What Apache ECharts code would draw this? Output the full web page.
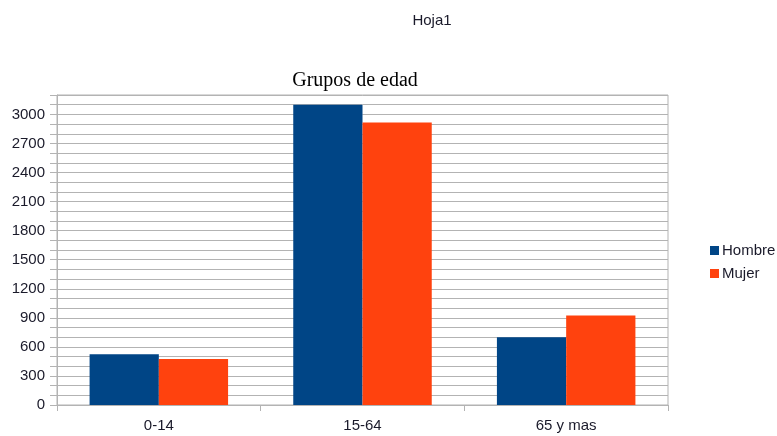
<!DOCTYPE html>
<html><head><meta charset="utf-8">
<script src="https://cdn.jsdelivr.net/npm/echarts@6/dist/echarts.min.js"></script>
<style>html,body{margin:0;padding:0;background:#fff}#c{width:777px;height:436px}</style>
</head><body><div id="c"></div>
<script>
const categories = ['0-14', '15-64', '65 y mas'];
const hombre = [525, 3100, 700];
const mujer = [475, 2915, 925];
const seriesNames = ['Hombre', 'Mujer'];

const chart = echarts.init(document.getElementById('c'));
chart.setOption({
  animation: false,
  backgroundColor: '#fff',
  title: [
    { text: 'Hoja1', left: 427, top: 8, textAlign: 'center',
      textStyle: { fontFamily: 'Liberation Sans', fontSize: 15, fontWeight: 'normal', color: '#1a1a2a' } },
    { text: 'Grupos de edad', left: 350, top: 66, textAlign: 'center',
      textStyle: { fontFamily: 'Liberation Serif', fontSize: 20, fontWeight: 'normal', color: '#000' } }
  ],
  legend: {
    orient: 'vertical', left: 705, top: 238, itemWidth: 9, itemHeight: 9, itemGap: 8,
    icon: 'rect',
    textStyle: { fontFamily: 'Liberation Sans', fontSize: 15, color: '#1a1a2a', padding: [0,0,0,-2] },
    data: seriesNames
  },
  grid: { left: 57, right: 109, top: 95, bottom: 31, show: true, borderColor: '#b3b3b3', borderWidth: 1 },
  xAxis: {
    type: 'category', data: categories,
    axisLine: { lineStyle: { color: '#b3b3b3' } },
    axisTick: { show: true, length: 6, alignWithLabel: false, lineStyle: { color: '#b3b3b3' } },
    axisLabel: { fontFamily: 'Liberation Sans', fontSize: 15, color: '#1a1a2a', margin: 13 }
  },
  yAxis: {
    type: 'value', min: 0, max: 3200, interval: 100,
    axisLine: { show: true, lineStyle: { color: '#b3b3b3' } },
    axisTick: { show: true, length: 7, lineStyle: { color: '#b3b3b3' } },
    splitLine: { lineStyle: { color: '#b3b3b3' } },
    axisLabel: { fontFamily: 'Liberation Sans', fontSize: 15, color: '#1a1a2a', margin: 12,
      formatter: v => (v % 300 === 0 && v <= 3000) ? String(v) : '' }
  },
  series: [
    { name: seriesNames[0], type: 'bar', data: hombre, barGap: '0%', barCategoryGap: '32%',
      itemStyle: { color: '#004586' } },
    { name: seriesNames[1], type: 'bar', data: mujer, barGap: '0%', barCategoryGap: '32%',
      itemStyle: { color: '#ff420e' } }
  ]
});
</script></body></html>
